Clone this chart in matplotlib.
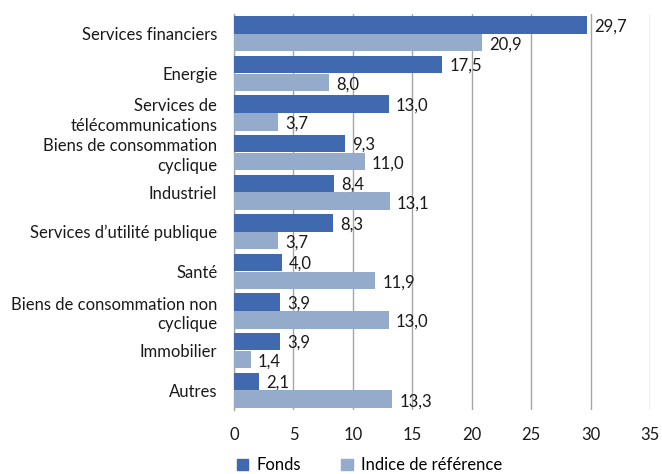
import matplotlib
matplotlib.use("Agg")
import matplotlib.pyplot as plt
import numpy as np
from matplotlib.patches import Patch

categories = ["Services financiers", "Energie", "Services de\ntélécommunications",
              "Biens de consommation\ncyclique", "Industriel", "Services d’utilité publique",
              "Santé", "Biens de consommation non\ncyclique", "Immobilier", "Autres"]
fonds = [29.7, 17.5, 13.0, 9.3, 8.4, 8.3, 4.0, 3.9, 3.9, 2.1]
indice = [20.9, 8.0, 3.7, 11.0, 13.1, 3.7, 11.9, 13.0, 1.4, 13.3]
xticks = [0, 5, 10, 15, 20, 25, 30, 35]

plt.rcParams['font.family'] = ['Lato', 'DejaVu Sans']

c_f = "#4169b0"
c_i = "#95abcb"
fs = 12

fig = plt.figure(figsize=(6.62, 4.74), dpi=100)
ax = fig.add_axes([0.3535, 0.135, 0.982 - 0.3535, 0.9705 - 0.135])

y = np.arange(len(categories))
h = 0.44
ax.barh(y - h / 2 - 0.005, fonds, height=h, color=c_f, zorder=3)
ax.barh(y + h / 2 + 0.005, indice, height=h, color=c_i, zorder=3)

for yi, v in zip(y, fonds):
    ax.text(v + 0.6, yi - h / 2 + 0.03, f"{v:.1f}".replace(".", ","), va="center", ha="left",
            fontsize=fs, color="#1a1a1a", zorder=4)
for yi, v in zip(y, indice):
    ax.text(v + 0.6, yi + h / 2 + 0.06, f"{v:.1f}".replace(".", ","), va="center", ha="left",
            fontsize=fs, color="#1a1a1a", zorder=4)

ax.set_ylim(len(categories) - 0.5, -0.5)
ax.set_xlim(0, 35)
ax.set_xticks(xticks)
ax.set_xticklabels([str(t) for t in xticks], fontsize=fs, color="#1a1a1a")
ax.set_yticks(y)
ax.set_yticklabels(categories, fontsize=fs, color="#1a1a1a", linespacing=1.3)
ax.tick_params(axis="y", length=0, pad=12)
ax.tick_params(axis="x", length=0, pad=12)

ax.grid(axis="x", color="#a6a6a6", linewidth=1.0, zorder=0)
for s in ["top", "right", "bottom"]:
    ax.spines[s].set_visible(False)
ax.spines["left"].set_color("#a6a6a6")
ax.spines["left"].set_linewidth(1.0)

handles = [Patch(color=c_f, label="Fonds"), Patch(color=c_i, label="Indice de référence")]
fig.legend(handles=handles, loc="lower left", bbox_to_anchor=(0.335, -0.03), ncol=2,
           frameon=False, fontsize=fs, handlelength=0.7, handleheight=0.7,
           handletextpad=0.5, columnspacing=2.4)

fig.savefig("out.png", dpi=100)
